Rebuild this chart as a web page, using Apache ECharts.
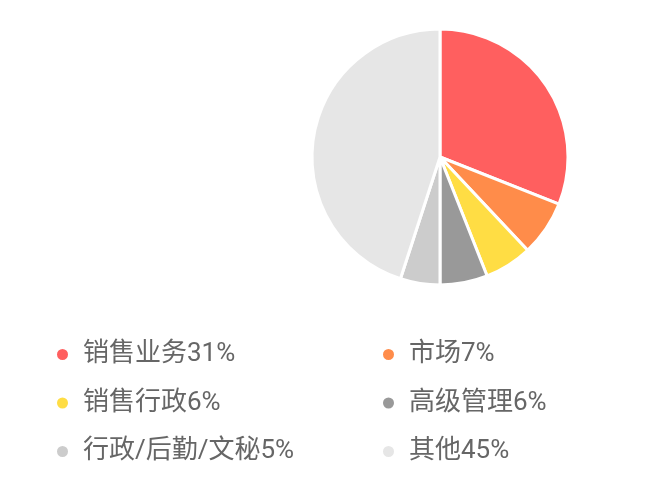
<!DOCTYPE html>
<html><head><meta charset="utf-8">
<script src="https://cdn.jsdelivr.net/npm/echarts@6/dist/echarts.min.js"></script>
<style>html,body{margin:0;padding:0;background:#fff}#c{width:667px;height:500px}</style>
</head><body><div id="c"></div>
<script>
const categories = ['销售业务', '市场', '销售行政', '高级管理', '行政/后勤/文秘', '其他'];
const values = [31, 7, 6, 6, 5, 45];
const colors = ['#FF5F5F', '#FF8C4A', '#FFDD44', '#999999', '#CCCCCC', '#E6E6E6'];

const chart = echarts.init(document.getElementById('c'));
const data = categories.map((n, i) => ({ name: n, value: values[i], itemStyle: { color: colors[i] } }));
const fmt = name => name + values[categories.indexOf(name)] + '%';
const legendBase = {
  orient: 'vertical', icon: 'circle', itemWidth: 13, itemHeight: 13, itemGap: 17.5,
  formatter: fmt, selectedMode: false,
  textStyle: { fontSize: 26, color: '#666', lineHeight: 31, padding: [0, 0, 0, 9],
    fontFamily: "Roboto, 'Noto Sans CJK SC', sans-serif" }
};
chart.setOption({
  animation: false,
  legend: [
    Object.assign({}, legendBase, { left: 50, top: 334, data: [categories[0], categories[2], categories[4]] }),
    Object.assign({}, legendBase, { left: 376, top: 334, data: [categories[1], categories[3], categories[5]] })
  ],
  series: [{
    type: 'pie', center: [440, 157], radius: 128, startAngle: 90, clockwise: true,
    label: { show: false }, labelLine: { show: false },
    itemStyle: { borderColor: '#fff', borderWidth: 3 },
    emphasis: { disabled: true },
    data: data
  }]
});
</script></body></html>
